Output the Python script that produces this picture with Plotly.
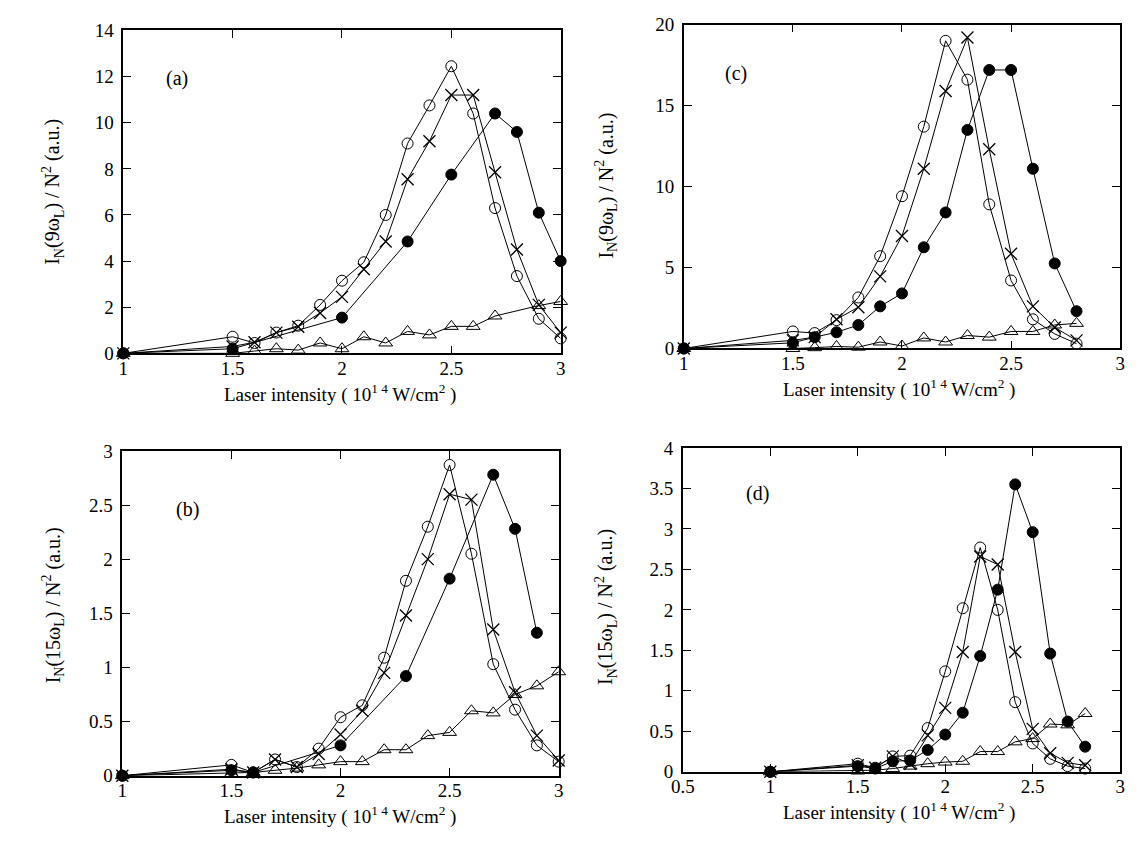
import plotly.graph_objects as go

# ---- Panel (a): I_N(9 w_L) / N^2 ----
a_open_x = [1.0, 1.5, 1.6, 1.7, 1.8, 1.9, 2.0, 2.1, 2.2, 2.3, 2.4, 2.5, 2.6, 2.7, 2.8, 2.9, 3.0]
a_open_y = [0.0, 0.72, 0.45, 0.9, 1.2, 2.1, 3.15, 3.95, 6.0, 9.1, 10.75, 12.45, 10.4, 6.3, 3.35, 1.5, 0.65]
a_cross_x = [1.0, 1.5, 1.6, 1.7, 1.8, 1.9, 2.0, 2.1, 2.2, 2.3, 2.4, 2.5, 2.6, 2.7, 2.8, 2.9, 3.0]
a_cross_y = [0.0, 0.3, 0.48, 0.9, 1.15, 1.75, 2.45, 3.65, 4.85, 7.55, 9.2, 11.2, 11.2, 7.85, 4.5, 2.1, 0.9]
a_fill_x = [1.0, 1.5, 2.0, 2.3, 2.5, 2.7, 2.8, 2.9, 3.0]
a_fill_y = [0.0, 0.2, 1.55, 4.85, 7.75, 10.4, 9.6, 6.1, 4.0]
a_tri_x = [1.0, 1.5, 1.6, 1.7, 1.8, 1.9, 2.0, 2.1, 2.2, 2.3, 2.4, 2.5, 2.6, 2.7, 2.9, 3.0]
a_tri_y = [0.0, 0.0, 0.1, 0.2, 0.14, 0.45, 0.2, 0.72, 0.45, 0.95, 0.8, 1.17, 1.17, 1.62, 2.07, 2.25]

# ---- Panel (c): I_N(9 w_L) / N^2 ----
c_open_x = [1.0, 1.5, 1.6, 1.7, 1.8, 1.9, 2.0, 2.1, 2.2, 2.3, 2.4, 2.5, 2.6, 2.7, 2.8]
c_open_y = [0.0, 1.05, 0.95, 1.75, 3.15, 5.7, 9.4, 13.7, 19.0, 16.6, 8.9, 4.2, 1.8, 0.9, 0.3]
c_cross_x = [1.0, 1.5, 1.6, 1.7, 1.8, 1.9, 2.0, 2.1, 2.2, 2.3, 2.4, 2.5, 2.6, 2.7, 2.8]
c_cross_y = [0.0, 0.5, 0.7, 1.8, 2.55, 4.45, 6.95, 11.1, 15.9, 19.2, 12.3, 5.85, 2.6, 1.3, 0.5]
c_fill_x = [1.0, 1.5, 1.6, 1.7, 1.8, 1.9, 2.0, 2.1, 2.2, 2.3, 2.4, 2.5, 2.6, 2.7, 2.8]
c_fill_y = [0.0, 0.35, 0.7, 1.0, 1.45, 2.6, 3.4, 6.25, 8.4, 13.5, 17.2, 17.2, 11.1, 5.25, 2.3]
c_tri_x = [1.0, 1.5, 1.6, 1.7, 1.8, 1.9, 2.0, 2.1, 2.2, 2.3, 2.4, 2.5, 2.6, 2.7, 2.8]
c_tri_y = [0.0, 0.0, 0.05, 0.12, 0.08, 0.4, 0.15, 0.65, 0.4, 0.8, 0.7, 1.05, 1.05, 1.45, 1.55]

# ---- Panel (b): I_N(15 w_L) / N^2 ----
b_open_x = [1.0, 1.5, 1.6, 1.7, 1.8, 1.9, 2.0, 2.1, 2.2, 2.3, 2.4, 2.5, 2.6, 2.7, 2.8, 2.9, 3.0]
b_open_y = [0.0, 0.1, 0.03, 0.15, 0.08, 0.25, 0.54, 0.65, 1.09, 1.8, 2.3, 2.87, 2.05, 1.03, 0.61, 0.28, 0.13]
b_cross_x = [1.0, 1.5, 1.6, 1.7, 1.8, 1.9, 2.0, 2.1, 2.2, 2.3, 2.4, 2.5, 2.6, 2.7, 2.8, 2.9, 3.0]
b_cross_y = [0.0, 0.06, 0.03, 0.15, 0.08, 0.2, 0.38, 0.6, 0.95, 1.48, 2.0, 2.6, 2.55, 1.35, 0.77, 0.37, 0.14]
b_fill_x = [1.0, 1.5, 1.6, 2.0, 2.3, 2.5, 2.7, 2.8, 2.9]
b_fill_y = [0.0, 0.05, 0.03, 0.28, 0.92, 1.82, 2.78, 2.28, 1.32]
b_tri_x = [1.0, 1.5, 1.6, 1.7, 1.8, 1.9, 2.0, 2.1, 2.2, 2.3, 2.4, 2.5, 2.6, 2.7, 2.8, 2.9, 3.0]
b_tri_y = [0.0, 0.02, 0.03, 0.05, 0.07, 0.1, 0.13, 0.13, 0.24, 0.24, 0.37, 0.4, 0.6, 0.58, 0.75, 0.83, 0.96]

# ---- Panel (d): I_N(15 w_L) / N^2 ----
d_open_x = [1.0, 1.5, 1.6, 1.7, 1.8, 1.9, 2.0, 2.1, 2.2, 2.3, 2.4, 2.5, 2.6, 2.7, 2.8]
d_open_y = [0.0, 0.1, 0.05, 0.19, 0.2, 0.54, 1.24, 2.02, 2.77, 2.0, 0.86, 0.35, 0.16, 0.07, 0.04]
d_cross_x = [1.0, 1.5, 1.6, 1.7, 1.8, 1.9, 2.0, 2.1, 2.2, 2.3, 2.4, 2.5, 2.6, 2.7, 2.8]
d_cross_y = [0.0, 0.08, 0.05, 0.19, 0.1, 0.45, 0.79, 1.48, 2.66, 2.56, 1.48, 0.53, 0.23, 0.11, 0.08]
d_fill_x = [1.0, 1.5, 1.6, 1.7, 1.8, 1.9, 2.0, 2.1, 2.2, 2.3, 2.4, 2.5, 2.6, 2.7, 2.8]
d_fill_y = [0.0, 0.07, 0.04, 0.13, 0.14, 0.27, 0.46, 0.73, 1.43, 2.25, 3.55, 2.96, 1.46, 0.62, 0.31]
d_tri_x = [1.0, 1.5, 1.6, 1.7, 1.8, 1.9, 2.0, 2.1, 2.2, 2.3, 2.4, 2.5, 2.6, 2.7, 2.8]
d_tri_y = [0.0, 0.01, 0.02, 0.04, 0.07, 0.1, 0.12, 0.13, 0.25, 0.25, 0.37, 0.41, 0.59, 0.58, 0.72]

panel_tags = ["(a)", "(c)", "(b)", "(d)"]
y_titles = [
    "I<sub>N</sub>(9ω<sub>L</sub>) / N<sup>2</sup> (a.u.)",
    "I<sub>N</sub>(9ω<sub>L</sub>) / N<sup>2</sup> (a.u.)",
    "I<sub>N</sub>(15ω<sub>L</sub>) / N<sup>2</sup> (a.u.)",
    "I<sub>N</sub>(15ω<sub>L</sub>) / N<sup>2</sup> (a.u.)",
]
x_title = "Laser intensity ( 10<sup>1 4</sup> W/cm<sup>2</sup> )"

FONT = "Liberation Serif, Times New Roman, serif"
W, H = 1136, 854

panels = [
    dict(series=[(a_open_x, a_open_y), (a_cross_x, a_cross_y), (a_fill_x, a_fill_y), (a_tri_x, a_tri_y)],
         box=(113, 557, 21, 352), xr=[1, 3], yr=[0, 14], dy=2, tag=(168, 70),
         xt=(333, 393), yt=(42, 186)),
    dict(series=[(c_open_x, c_open_y), (c_cross_x, c_cross_y), (c_fill_x, c_fill_y), (c_tri_x, c_tri_y)],
         box=(682, 1125, 15, 347), xr=[1, 3], yr=[0, 20], dy=5, tag=(735, 65),
         xt=(900, 388), yt=(603, 180)),
    dict(series=[(b_open_x, b_open_y), (b_cross_x, b_cross_y), (b_fill_x, b_fill_y), (b_tri_x, b_tri_y)],
         box=(112, 555, 452, 785), xr=[1, 3], yr=[0, 3], dy=0.5, tag=(178, 512),
         xt=(333, 826), yt=(42, 610)),
    dict(series=[(d_open_x, d_open_y), (d_cross_x, d_cross_y), (d_fill_x, d_fill_y), (d_tri_x, d_tri_y)],
         box=(681, 1125, 449, 781), xr=[0.5, 3], yr=[0, 4], dy=0.5, tag=(757, 496),
         xt=(900, 822), yt=(603, 612)),
]

markers = [
    dict(symbol="circle-open", size=11, color="black", line=dict(width=1, color="black")),
    dict(symbol="x-thin-open", size=12, color="black", line=dict(width=1.3, color="black")),
    dict(symbol="circle", size=11, color="black", line=dict(width=1, color="black")),
    dict(symbol="triangle-up-open", size=12, color="black", line=dict(width=1, color="black")),
]

fig = go.Figure()
layout = dict(
    width=W, height=H,
    margin=dict(l=0, r=0, t=0, b=0),
    paper_bgcolor="white", plot_bgcolor="white",
    showlegend=False,
    font=dict(family=FONT, size=19, color="black"),
    annotations=[],
)

for i, p in enumerate(panels):
    n = "" if i == 0 else str(i + 1)
    xa, ya = "x" + n, "y" + n
    for (xs, ys), mk in zip(p["series"], markers):
        fig.add_trace(go.Scatter(
            x=xs, y=ys, xaxis=xa, yaxis=ya, mode="lines+markers",
            line=dict(color="black", width=1), marker=mk, cliponaxis=False,
        ))
    x0, x1, y0, y1 = p["box"]
    common = dict(
        showline=True, linecolor="black", linewidth=1.5, mirror="ticks",
        ticks="inside", ticklen=8, tickwidth=1.3, tickcolor="black",
        showgrid=False, zeroline=False,
        tickfont=dict(family=FONT, size=19, color="black"),
    )
    layout["xaxis" + n] = dict(
        common, domain=[x0 / W, x1 / W], range=p["xr"], dtick=0.5, tick0=0,
        anchor=ya, ticklabelstandoff=-3,
    )
    layout["yaxis" + n] = dict(
        common, domain=[1 - y1 / H, 1 - y0 / H], range=p["yr"], dtick=p["dy"], tick0=0,
        anchor=xa, ticklabelstandoff=4,
    )
    tx, ty = p["tag"]
    layout["annotations"].append(dict(
        text=panel_tags[i], x=tx / W, y=1 - ty / H, xref="paper", yref="paper",
        showarrow=False, font=dict(family=FONT, size=20, color="black"),
        xanchor="center", yanchor="middle",
    ))
    # axis titles
    xx, xy = p["xt"]
    layout["annotations"].append(dict(
        text=x_title, x=xx / W, y=1 - xy / H, xref="paper", yref="paper",
        showarrow=False, font=dict(family=FONT, size=19, color="black"),
        xanchor="center", yanchor="middle",
    ))
    yx, yy = p["yt"]
    layout["annotations"].append(dict(
        text=y_titles[i], x=yx / W, y=1 - yy / H, xref="paper", yref="paper",
        showarrow=False, textangle=-90, font=dict(family=FONT, size=20, color="black"),
        xanchor="center", yanchor="middle",
    ))

fig.update_layout(**layout)
fig.write_html("out.html")
